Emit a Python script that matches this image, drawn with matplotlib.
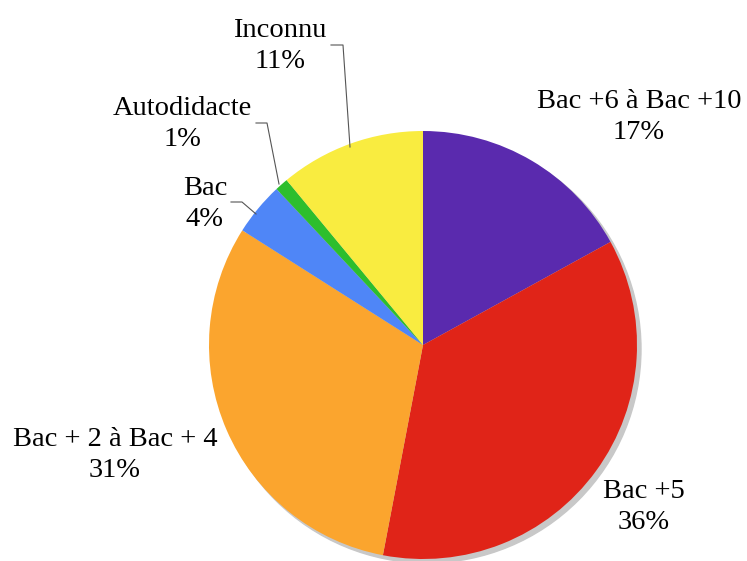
import matplotlib.pyplot as plt
from matplotlib.patches import Circle

# Donnees
categories = ['Bac +6 à Bac +10', 'Bac +5', 'Bac + 2 à Bac + 4', 'Bac', 'Autodidacte', 'Inconnu']
valeurs = [17, 36, 31, 4, 1, 11]
couleurs = ['#5a2aae', '#e02418', '#fba52e', '#4f86f7', '#2dbe2d', '#f9ec40']

H = 561
fig = plt.figure(figsize=(7.47, 5.61), dpi=100)
ax = fig.add_axes([0, 0, 1, 1])

cx, cy, r = 423, H - 345, 214

# Schatten
ax.add_patch(Circle((cx + 4, cy - 4), r, color='#c8c8c8', zorder=0))

wedges, _ = ax.pie(valeurs, colors=couleurs, startangle=90, counterclock=False,
                   center=(cx, cy), radius=r, frame=True,
                   wedgeprops=dict(linewidth=0))
ax.set_xlim(0, 747)
ax.set_ylim(0, H)
ax.set_aspect('equal')
ax.axis('off')

# Beschriftungen (Pixelpositionen aus der Vorlage)
pos = [(639, 117), (644, 507), (115, 455), (205, 204), (182, 124), (280, 46)]
for cat, v, (x, y) in zip(categories, valeurs, pos):
    ax.text(x, H - y, '%s\n%d%%' % (cat, v), ha='center', va='center',
            fontsize=20.5, family='Liberation Serif', linespacing=1.36)

# Fuehrungslinien
linien = [
    [(331, 45), (343, 45), (350, 147)],
    [(256, 123), (267, 123), (279, 184)],
    [(231, 202), (242, 202), (256, 214)],
]
for pts in linien:
    xs = [p[0] for p in pts]
    ys = [H - p[1] for p in pts]
    ax.plot(xs, ys, color='#555555', lw=0.8)

fig.savefig('out.png', dpi=100)
